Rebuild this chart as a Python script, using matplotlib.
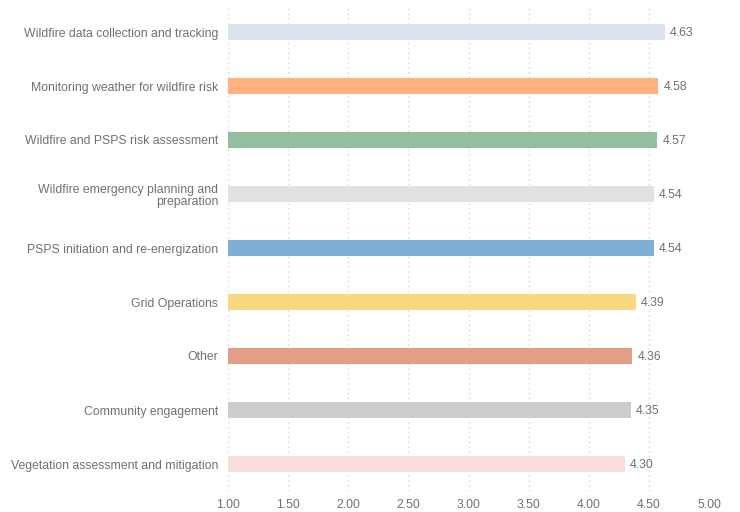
import matplotlib
matplotlib.use("Agg")
import matplotlib.pyplot as plt

categories = [
    "Wildfire data collection and tracking",
    "Monitoring weather for wildfire risk",
    "Wildfire and PSPS risk assessment",
    "Wildfire emergency planning and\npreparation",
    "PSPS initiation and re-energization",
    "Grid Operations",
    "Other",
    "Community engagement",
    "Vegetation assessment and mitigation",
]
scores = [4.63, 4.58, 4.57, 4.54, 4.54, 4.39, 4.36, 4.35, 4.30]
colors = ["#dce3ef", "#ffb27f", "#93bfa0", "#e2e1df", "#7eb0d5",
          "#fbd87f", "#e49d87", "#cccccc", "#f9dcdc"]
xticks = [1.0, 1.5, 2.0, 2.5, 3.0, 3.5, 4.0, 4.5, 5.0]

plt.rcParams["font.family"] = ["Liberation Sans", "DejaVu Sans"]
text_color = "#707070"

fig = plt.figure(figsize=(7.4, 5.12), dpi=100)
ax = fig.add_axes([228 / 740, 21 / 512, 481 / 740, 486 / 512])

base = xticks[0]
ypos = list(range(len(categories)))
widths = [s - base for s in scores]
ax.barh(ypos, widths, left=base, height=0.3, color=colors, zorder=2)

for y, s in zip(ypos, scores):
    ax.text(s + 0.045, y, f"{s:.2f}", va="center_baseline", ha="left",
            fontsize=8.8, color=text_color, zorder=3)

ax.set_xlim(xticks[0], xticks[-1])
ax.set_ylim(len(categories) - 0.5, -0.5)
ax.set_xticks(xticks)
ax.set_xticklabels([f"{t:.2f}" for t in xticks])
ax.set_yticks(ypos)
ax.set_yticklabels(categories, linespacing=1.0)

ax.tick_params(axis="both", length=0, labelsize=8.8, colors=text_color)
ax.tick_params(axis="y", pad=7)
ax.tick_params(axis="x", pad=6)
for lbl in ax.get_yticklabels():
    lbl.set_horizontalalignment("right")

ax.grid(axis="x", color="#d4d4d4", linestyle=(0, (1, 2.5)), linewidth=1, zorder=0)
ax.grid(axis="y", visible=False)
for sp in ax.spines.values():
    sp.set_visible(False)

fig.savefig("out.png", dpi=100)
